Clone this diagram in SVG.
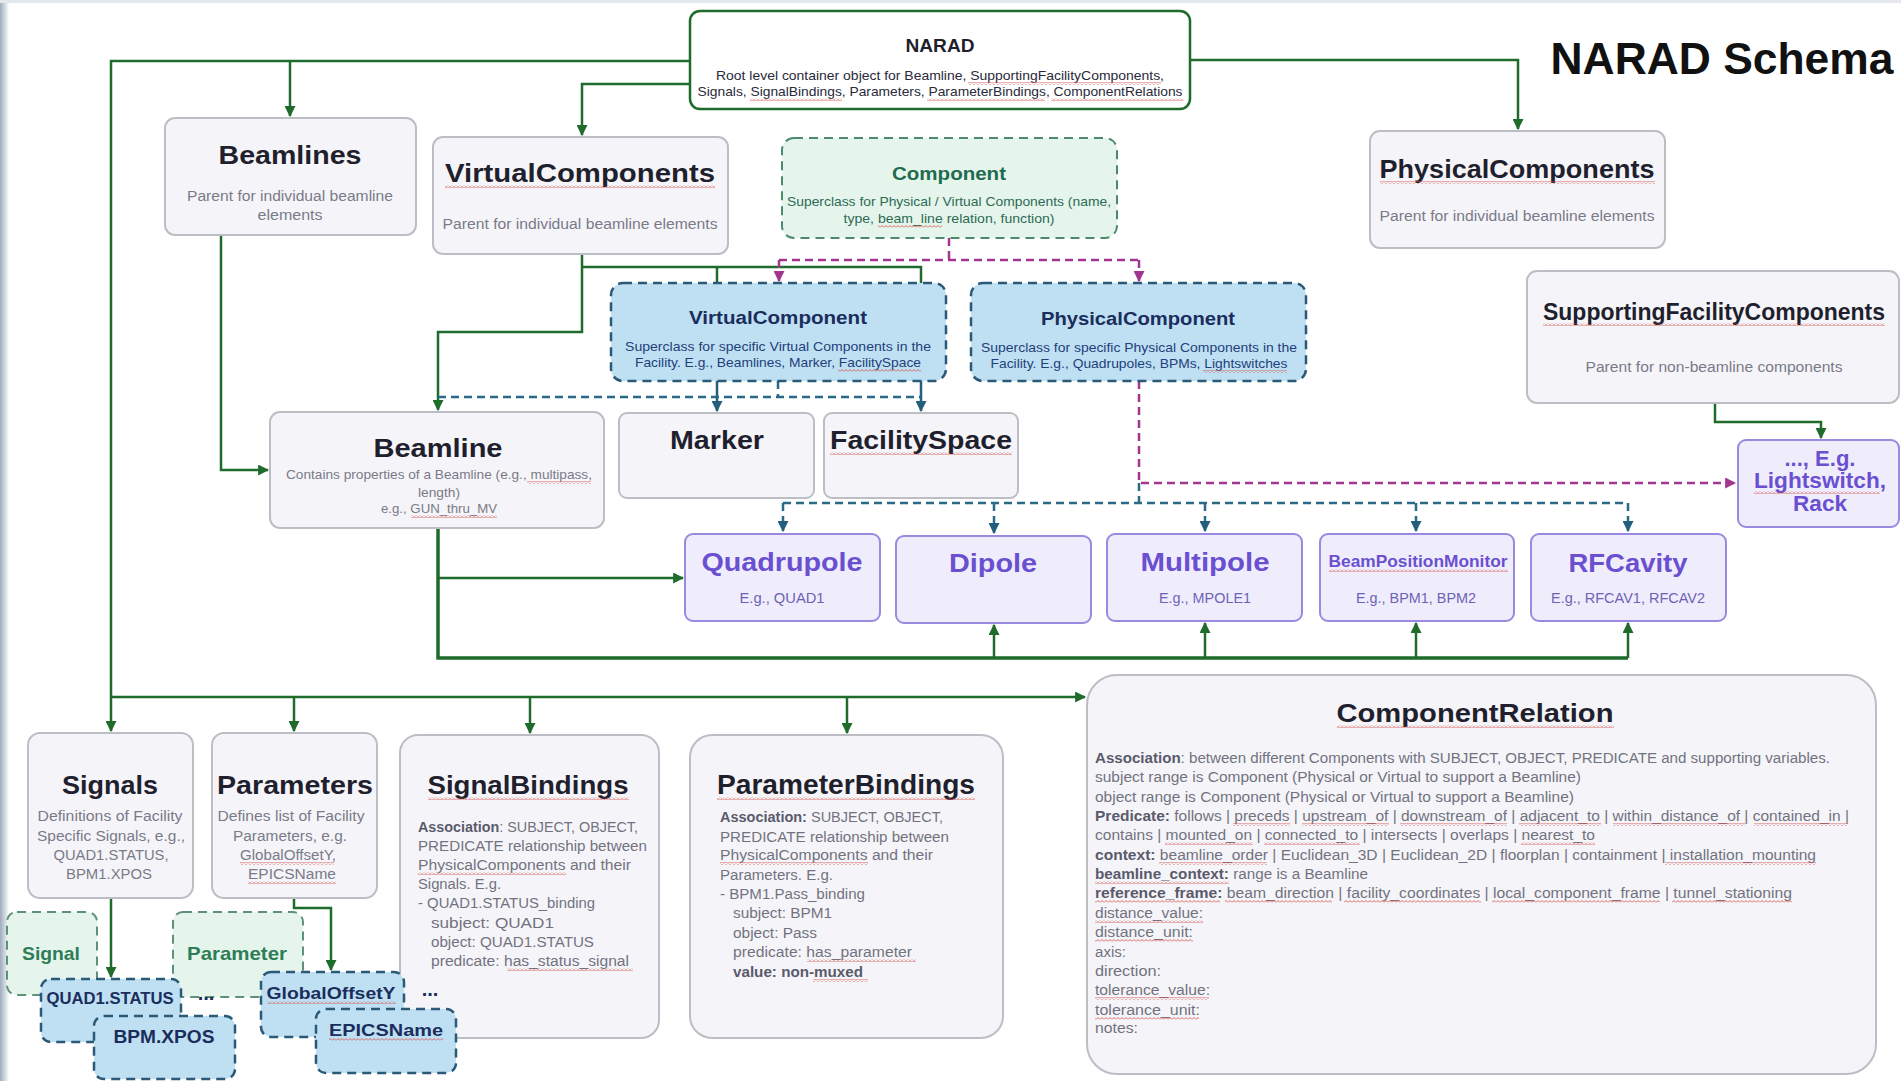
<svg xmlns="http://www.w3.org/2000/svg" width="1901" height="1081" viewBox="0 0 1901 1081">
<defs>
  <linearGradient id="edge" x1="0" x2="1" y1="0" y2="0">
    <stop offset="0" stop-color="#9eacbc"/>
    <stop offset="0.6" stop-color="#d5dce4"/>
    <stop offset="1" stop-color="#ffffff"/>
  </linearGradient>
  <pattern id="sq" width="4" height="3" patternUnits="userSpaceOnUse"><path d="M0,2.5 L2,0.5 L4,2.5" fill="none" stroke="#d8544f" stroke-width="0.9"/></pattern>
  <marker id="ag" viewBox="0 0 10 10" refX="9" refY="5" markerWidth="11" markerHeight="11" markerUnits="userSpaceOnUse" orient="auto"><path d="M0,0 L10,5 L0,10 z" fill="#1e6b2c"/></marker>
  <marker id="at" viewBox="0 0 10 10" refX="9" refY="5" markerWidth="11" markerHeight="11" markerUnits="userSpaceOnUse" orient="auto"><path d="M0,0 L10,5 L0,10 z" fill="#235f7c"/></marker>
  <marker id="am" viewBox="0 0 10 10" refX="9" refY="5" markerWidth="11" markerHeight="11" markerUnits="userSpaceOnUse" orient="auto"><path d="M0,0 L10,5 L0,10 z" fill="#a2358f"/></marker>
</defs>
<style>
  text{font-family:"Liberation Sans",Arial,sans-serif}
  .box{fill:#f5f5f9;stroke:#bdbdc5;stroke-width:2}
  .root{fill:#ffffff;stroke:#1e6b2c;stroke-width:2.5}
  .cmp{fill:#e5f5ec;stroke:#4c8a6c;stroke-width:2;stroke-dasharray:9 6}
  .blu{fill:#bfe0f3;stroke:#2b5a78;stroke-width:2.5;stroke-dasharray:9 6}
  .pur{fill:#efedfc;stroke:#9b88df;stroke-width:2}
  .grn{fill:#e5f5ec;stroke:#5f917a;stroke-width:2;stroke-dasharray:9 6}
  .h{font-weight:bold;font-size:26px;fill:#1f1f2d;text-anchor:middle}
  .hp{font-weight:bold;font-size:26px;fill:#6a50d0;text-anchor:middle}
  .hb{font-weight:bold;font-size:19px;fill:#1a2d5c;text-anchor:middle}
  .hg{font-weight:bold;font-size:19px;fill:#1e6b4f;text-anchor:middle}
  .sub{font-size:14px;fill:#7a7a88;text-anchor:middle}
  .subp{font-size:14px;fill:#6e62b6;text-anchor:middle}
  .subb{font-size:13px;fill:#23407a;text-anchor:middle}
  .subg{font-size:13px;fill:#2d6b55;text-anchor:middle}
  .body{font-size:14px;fill:#72727f}
  .bd{font-weight:bold;fill:#5a5a6c}
  .lg{font-weight:bold;font-size:19px;fill:#2e7d57;text-anchor:middle}
  .lb{font-weight:bold;font-size:17px;fill:#1a2d5c;text-anchor:middle}
  .g{fill:none;stroke:#1e6b2c;stroke-width:2.5}
  .gt{fill:none;stroke:#1e6b2c;stroke-width:3.5}
  .td{fill:none;stroke:#2b6a86;stroke-width:2.5;stroke-dasharray:8 5}
  .ts{fill:none;stroke:#235f7c;stroke-width:2.5}
  .md{fill:none;stroke:#a2358f;stroke-width:2.5;stroke-dasharray:8 5}
  .sq{fill:url(#sq)}
</style>

<rect x="0" y="0" width="1901" height="1081" fill="#ffffff"/>
<rect x="0" y="0" width="9" height="1081" fill="url(#edge)"/>
<rect x="0" y="0" width="1901" height="3" fill="#e4e7eb"/>

<text x="1722" y="74" font-size="44" font-weight="bold" fill="#111" text-anchor="middle" textLength="343" lengthAdjust="spacingAndGlyphs">NARAD Schema</text>

<!-- connectors -->
<g id="connectors">
  <path class="g" d="M690,61 H111 V731" marker-end="url(#ag)"/>
  <path class="g" d="M290,61 V116" marker-end="url(#ag)"/>
  <path class="g" d="M690,84 H582 V135" marker-end="url(#ag)"/>
  <path class="g" d="M1190,60 H1518 V129" marker-end="url(#ag)"/>
  <path class="g" d="M221,235 V470 H268" marker-end="url(#ag)"/>
  <path class="g" d="M582,254 V332 H438 V410" marker-end="url(#ag)"/>
  <path class="g" d="M582,267 H921 V283 M717,267 V283"/>
  <path class="ts" d="M717,381 V411" marker-end="url(#at)"/>
  <path class="ts" d="M921,381 V411" marker-end="url(#at)"/>
  <path class="gt" d="M438,528 V658 H1628"/>
  <path class="g" d="M438,578 H683" marker-end="url(#ag)"/>
  <path class="g" d="M994,658 V625" marker-end="url(#ag)"/>
  <path class="g" d="M1205,658 V623" marker-end="url(#ag)"/>
  <path class="g" d="M1416,658 V623" marker-end="url(#ag)"/>
  <path class="g" d="M1628,658 V623" marker-end="url(#ag)"/>
  <path class="g" d="M111,697 H1085" marker-end="url(#ag)"/>
  <path class="g" d="M294,697 V731" marker-end="url(#ag)"/>
  <path class="g" d="M530,697 V733" marker-end="url(#ag)"/>
  <path class="g" d="M847,697 V733" marker-end="url(#ag)"/>
  <path class="g" d="M1715,403 V422 H1821 V438" marker-end="url(#ag)"/>
  <path class="g" d="M111,898 V977" marker-end="url(#ag)"/>
  <path class="g" d="M294,898 V908 H331 V970" marker-end="url(#ag)"/>
  <path class="md" d="M949,238 V260 M779,260 H1139"/>
  <path class="md" d="M779,260 V281" marker-end="url(#am)"/>
  <path class="md" d="M1139,260 V281" marker-end="url(#am)"/>
  <path class="md" d="M1139,381 V483 H1735" marker-end="url(#am)"/>
  <path class="td" d="M778,381 V397 M438,397 H921"/>
  <path class="td" d="M1139,483 V503 M783,503 H1628"/>
  <path class="td" d="M783,503 V531" marker-end="url(#at)"/>
  <path class="td" d="M994,503 V533" marker-end="url(#at)"/>
  <path class="td" d="M1205,503 V531" marker-end="url(#at)"/>
  <path class="td" d="M1416,503 V531" marker-end="url(#at)"/>
  <path class="td" d="M1628,503 V531" marker-end="url(#at)"/>
</g>

<g id="narad">
  <rect class="root" x="690" y="11" width="500" height="98" rx="10"/>
  <text x="940" y="52" font-size="19" font-weight="bold" fill="#1f1f2d" text-anchor="middle" textLength="69" lengthAdjust="spacingAndGlyphs">NARAD</text>
  <text x="940" y="80" font-size="13" fill="#2a2a3a" text-anchor="middle" textLength="448" lengthAdjust="spacingAndGlyphs">Root level container object for Beamline, SupportingFacilityComponents,</text>
  <text x="940" y="96" font-size="13" fill="#2a2a3a" text-anchor="middle" textLength="485" lengthAdjust="spacingAndGlyphs">Signals, SignalBindings, Parameters, ParameterBindings, ComponentRelations</text>
</g>

<g id="beamlines">
  <rect class="box" x="165" y="118" width="251" height="117" rx="10"/>
  <text class="h" x="290" y="164" textLength="143" lengthAdjust="spacingAndGlyphs">Beamlines</text>
  <text class="sub" x="290" y="201" textLength="206" lengthAdjust="spacingAndGlyphs">Parent for individual beamline</text>
  <text class="sub" x="290" y="220" textLength="65" lengthAdjust="spacingAndGlyphs">elements</text>
</g>

<g id="virtualcomponents">
  <rect class="box" x="433" y="137" width="295" height="117" rx="10"/>
  <text class="h" x="580" y="182" textLength="270" lengthAdjust="spacingAndGlyphs">VirtualComponents</text>
  <text class="sub" x="580" y="229" textLength="275" lengthAdjust="spacingAndGlyphs">Parent for individual beamline elements</text>
</g>

<g id="component">
  <rect class="cmp" x="782" y="138" width="335" height="100" rx="12"/>
  <text class="hg" x="949" y="180" textLength="114" lengthAdjust="spacingAndGlyphs">Component</text>
  <text class="subg" x="949" y="206" textLength="324" lengthAdjust="spacingAndGlyphs">Superclass for Physical / Virtual Components (name,</text>
  <text class="subg" x="949" y="223" textLength="211" lengthAdjust="spacingAndGlyphs">type, beam_line relation, function)</text>
</g>

<g id="physicalcomponents">
  <rect class="box" x="1370" y="131" width="295" height="117" rx="10"/>
  <text class="h" x="1517" y="178" textLength="275" lengthAdjust="spacingAndGlyphs">PhysicalComponents</text>
  <text class="sub" x="1517" y="221" textLength="275" lengthAdjust="spacingAndGlyphs">Parent for individual beamline elements</text>
</g>

<g id="supportingfacilitycomponents">
  <rect class="box" x="1527" y="271" width="372" height="132" rx="10"/>
  <text class="h" x="1714" y="320" textLength="342" lengthAdjust="spacingAndGlyphs" style="font-size:23px">SupportingFacilityComponents</text>
  <text class="sub" x="1714" y="372" textLength="257" lengthAdjust="spacingAndGlyphs">Parent for non-beamline components</text>
</g>

<g id="supporting-examples">
  <rect class="pur" x="1738" y="440" width="161" height="87" rx="8"/>
  <text class="hp" x="1820" y="466" style="font-size:22px" textLength="71" lengthAdjust="spacingAndGlyphs">..., E.g.</text>
  <text class="hp" x="1820" y="488" style="font-size:22px" textLength="132" lengthAdjust="spacingAndGlyphs">Lightswitch,</text>
  <text class="hp" x="1820" y="511" style="font-size:22px" textLength="54" lengthAdjust="spacingAndGlyphs">Rack</text>
</g>

<g id="virtualcomponent">
  <rect class="blu" x="611" y="283" width="335" height="98" rx="12"/>
  <text class="hb" x="778" y="324" textLength="178" lengthAdjust="spacingAndGlyphs">VirtualComponent</text>
  <text class="subb" x="778" y="351" textLength="306" lengthAdjust="spacingAndGlyphs">Superclass for specific Virtual Components in the</text>
  <text class="subb" x="778" y="367" textLength="286" lengthAdjust="spacingAndGlyphs">Facility. E.g., Beamlines, Marker, FacilitySpace</text>
</g>

<g id="physicalcomponent">
  <rect class="blu" x="971" y="283" width="335" height="98" rx="12"/>
  <text class="hb" x="1138" y="325" textLength="194" lengthAdjust="spacingAndGlyphs">PhysicalComponent</text>
  <text class="subb" x="1139" y="352" textLength="316" lengthAdjust="spacingAndGlyphs">Superclass for specific Physical Components in the</text>
  <text class="subb" x="1139" y="368" textLength="297" lengthAdjust="spacingAndGlyphs">Facility. E.g., Quadrupoles, BPMs, Lightswitches</text>
</g>

<g id="beamline">
  <rect class="box" x="270" y="412" width="334" height="116" rx="10"/>
  <text class="h" x="438" y="457" textLength="129" lengthAdjust="spacingAndGlyphs">Beamline</text>
  <text class="sub" x="439" y="479" style="font-size:13px" textLength="306" lengthAdjust="spacingAndGlyphs">Contains properties of a Beamline (e.g., multipass,</text>
  <text class="sub" x="439" y="497" style="font-size:13px" textLength="42" lengthAdjust="spacingAndGlyphs">length)</text>
  <text class="sub" x="439" y="513" style="font-size:13px" textLength="116" lengthAdjust="spacingAndGlyphs">e.g., GUN_thru_MV</text>
</g>

<g id="marker">
  <rect class="box" x="619" y="413" width="195" height="85" rx="8"/>
  <text class="h" x="717" y="449" textLength="94" lengthAdjust="spacingAndGlyphs">Marker</text>
</g>

<g id="facilityspace">
  <rect class="box" x="824" y="413" width="194" height="85" rx="8"/>
  <text class="h" x="921" y="449" textLength="182" lengthAdjust="spacingAndGlyphs">FacilitySpace</text>
</g>

<g id="quadrupole">
  <rect class="pur" x="685" y="534" width="195" height="87" rx="8"/>
  <text class="hp" x="782" y="571" textLength="161" lengthAdjust="spacingAndGlyphs">Quadrupole</text>
  <text class="subp" x="782" y="603" textLength="85" lengthAdjust="spacingAndGlyphs">E.g., QUAD1</text>
</g>

<g id="dipole">
  <rect class="pur" x="896" y="536" width="195" height="87" rx="8"/>
  <text class="hp" x="993" y="572" textLength="88" lengthAdjust="spacingAndGlyphs">Dipole</text>
</g>

<g id="multipole">
  <rect class="pur" x="1107" y="534" width="195" height="87" rx="8"/>
  <text class="hp" x="1205" y="571" textLength="129" lengthAdjust="spacingAndGlyphs">Multipole</text>
  <text class="subp" x="1205" y="603" textLength="92" lengthAdjust="spacingAndGlyphs">E.g., MPOLE1</text>
</g>

<g id="beampositionmonitor">
  <rect class="pur" x="1320" y="534" width="194" height="87" rx="8"/>
  <text class="hp" x="1418" y="567" style="font-size:17px" textLength="179" lengthAdjust="spacingAndGlyphs">BeamPositionMonitor</text>
  <text class="subp" x="1416" y="603" textLength="120" lengthAdjust="spacingAndGlyphs">E.g., BPM1, BPM2</text>
</g>

<g id="rfcavity">
  <rect class="pur" x="1531" y="534" width="195" height="87" rx="8"/>
  <text class="hp" x="1628" y="572" textLength="119" lengthAdjust="spacingAndGlyphs">RFCavity</text>
  <text class="subp" x="1628" y="603" textLength="154" lengthAdjust="spacingAndGlyphs">E.g., RFCAV1, RFCAV2</text>
</g>

<g id="signals">
  <rect class="box" x="28" y="733" width="165" height="165" rx="12"/>
  <text class="h" x="110" y="794" textLength="96" lengthAdjust="spacingAndGlyphs">Signals</text>
  <text class="sub" x="110" y="821" textLength="145" lengthAdjust="spacingAndGlyphs">Definitions of Facility</text>
  <text class="sub" x="111" y="841" textLength="148" lengthAdjust="spacingAndGlyphs">Specific Signals, e.g.,</text>
  <text class="sub" x="111" y="860" textLength="115" lengthAdjust="spacingAndGlyphs">QUAD1.STATUS,</text>
  <text class="sub" x="109" y="879" textLength="86" lengthAdjust="spacingAndGlyphs">BPM1.XPOS</text>
</g>

<g id="parameters">
  <rect class="box" x="212" y="733" width="165" height="165" rx="12"/>
  <text class="h" x="295" y="794" textLength="156" lengthAdjust="spacingAndGlyphs">Parameters</text>
  <text class="sub" x="291" y="821" textLength="147" lengthAdjust="spacingAndGlyphs">Defines list of Facility</text>
  <text class="sub" x="290" y="841" textLength="114" lengthAdjust="spacingAndGlyphs">Parameters, e.g.</text>
  <text class="sub" x="288" y="860" textLength="96" lengthAdjust="spacingAndGlyphs">GlobalOffsetY,</text>
  <text class="sub" x="292" y="879" textLength="88" lengthAdjust="spacingAndGlyphs">EPICSName</text>
</g>

<g id="signalbindings">
  <rect class="box" x="400" y="735" width="259" height="303" rx="18"/>
  <text class="h" x="528" y="794" textLength="201" lengthAdjust="spacingAndGlyphs">SignalBindings</text>
  <text class="body" x="418" y="832" textLength="220" lengthAdjust="spacingAndGlyphs"><tspan class="bd">Association</tspan>: SUBJECT, OBJECT,</text>
  <text class="body" x="418" y="851" textLength="229" lengthAdjust="spacingAndGlyphs">PREDICATE relationship between</text>
  <text class="body" x="418" y="870" textLength="213" lengthAdjust="spacingAndGlyphs">PhysicalComponents and their</text>
  <text class="body" x="418" y="889" textLength="83" lengthAdjust="spacingAndGlyphs">Signals. E.g.</text>
  <text class="body" x="418" y="908" textLength="177" lengthAdjust="spacingAndGlyphs">- QUAD1.STATUS_binding</text>
  <text class="body" x="431" y="928" textLength="123" lengthAdjust="spacingAndGlyphs">subject: QUAD1</text>
  <text class="body" x="431" y="947" textLength="163" lengthAdjust="spacingAndGlyphs">object: QUAD1.STATUS</text>
  <text class="body" x="431" y="966" textLength="198" lengthAdjust="spacingAndGlyphs">predicate: has_status_signal</text>
</g>

<g id="parameterbindings">
  <rect class="box" x="690" y="735" width="313" height="303" rx="22"/>
  <text class="h" x="846" y="794" style="font-size:27px" textLength="258" lengthAdjust="spacingAndGlyphs">ParameterBindings</text>
  <text class="body" x="720" y="822" textLength="223" lengthAdjust="spacingAndGlyphs"><tspan class="bd">Association:</tspan> SUBJECT, OBJECT,</text>
  <text class="body" x="720" y="842" textLength="229" lengthAdjust="spacingAndGlyphs">PREDICATE relationship between</text>
  <text class="body" x="720" y="860" textLength="213" lengthAdjust="spacingAndGlyphs">PhysicalComponents and their</text>
  <text class="body" x="720" y="880" textLength="113" lengthAdjust="spacingAndGlyphs">Parameters. E.g.</text>
  <text class="body" x="720" y="899" textLength="145" lengthAdjust="spacingAndGlyphs">- BPM1.Pass_binding</text>
  <text class="body" x="733" y="918" textLength="99" lengthAdjust="spacingAndGlyphs">subject: BPM1</text>
  <text class="body" x="733" y="938" textLength="84" lengthAdjust="spacingAndGlyphs">object: Pass</text>
  <text class="body" x="733" y="957" textLength="179" lengthAdjust="spacingAndGlyphs">predicate: has_parameter</text>
  <text class="body bd" x="733" y="977" textLength="130" lengthAdjust="spacingAndGlyphs">value: non-muxed</text>
</g>

<g id="componentrelation">
  <rect class="box" x="1087" y="675" width="789" height="399" rx="30"/>
  <text class="h" x="1475" y="722" textLength="277" lengthAdjust="spacingAndGlyphs">ComponentRelation</text>
  <text class="body" x="1095" y="763" textLength="735" lengthAdjust="spacingAndGlyphs"><tspan class="bd">Association</tspan>: between different Components with SUBJECT, OBJECT, PREDICATE and supporting variables.</text>
  <text class="body" x="1095" y="782" textLength="486" lengthAdjust="spacingAndGlyphs">subject range is Component (Physical or Virtual to support a Beamline)</text>
  <text class="body" x="1095" y="802" textLength="479" lengthAdjust="spacingAndGlyphs">object range is Component (Physical or Virtual to support a Beamline)</text>
  <text class="body" x="1095" y="821" textLength="754" lengthAdjust="spacingAndGlyphs"><tspan class="bd">Predicate:</tspan> follows | preceds | upstream_of | downstream_of | adjacent_to | within_distance_of | contained_in |</text>
  <text class="body" x="1095" y="840" textLength="500" lengthAdjust="spacingAndGlyphs">contains | mounted_on | connected_to | intersects | overlaps | nearest_to</text>
  <text class="body" x="1095" y="860" textLength="721" lengthAdjust="spacingAndGlyphs"><tspan class="bd">context:</tspan> beamline_order | Euclidean_3D | Euclidean_2D | floorplan | containment | installation_mounting</text>
  <text class="body" x="1095" y="879" textLength="273" lengthAdjust="spacingAndGlyphs"><tspan class="bd">beamline_context:</tspan> range is a Beamline</text>
  <text class="body" x="1095" y="898" textLength="697" lengthAdjust="spacingAndGlyphs"><tspan class="bd">reference_frame:</tspan> beam_direction | facility_coordinates | local_component_frame | tunnel_stationing</text>
  <text class="body" x="1095" y="918" textLength="108" lengthAdjust="spacingAndGlyphs">distance_value:</text>
  <text class="body" x="1095" y="937" textLength="98" lengthAdjust="spacingAndGlyphs">distance_unit:</text>
  <text class="body" x="1095" y="957" textLength="31" lengthAdjust="spacingAndGlyphs">axis:</text>
  <text class="body" x="1095" y="976" textLength="66" lengthAdjust="spacingAndGlyphs">direction:</text>
  <text class="body" x="1095" y="995" textLength="115" lengthAdjust="spacingAndGlyphs">tolerance_value:</text>
  <text class="body" x="1095" y="1015" textLength="105" lengthAdjust="spacingAndGlyphs">tolerance_unit:</text>
  <text class="body" x="1095" y="1033" textLength="43" lengthAdjust="spacingAndGlyphs">notes:</text>
</g>

<g id="signal">
  <rect class="grn" x="7" y="912" width="90" height="83" rx="10"/>
  <text class="lg" x="51" y="960" textLength="58" lengthAdjust="spacingAndGlyphs">Signal</text>
</g>

<g id="parameter">
  <rect class="grn" x="173" y="912" width="130" height="85" rx="10"/>
  <text class="lg" x="237" y="960" textLength="100" lengthAdjust="spacingAndGlyphs">Parameter</text>
</g>

<g id="quad1-status">
  <rect class="blu" x="41" y="979" width="140" height="63" rx="10"/>
  <text class="lb" x="110" y="1004" style="font-size:16px" textLength="127" lengthAdjust="spacingAndGlyphs">QUAD1.STATUS</text>
</g>
<text x="206" y="1000" font-size="20" font-weight="bold" fill="#1a2d5c" text-anchor="middle">...</text>

<g id="bpm-xpos">
  <rect class="blu" x="94" y="1016" width="141" height="63" rx="10"/>
  <text class="lb" x="164" y="1043" style="font-size:18px" textLength="101" lengthAdjust="spacingAndGlyphs">BPM.XPOS</text>
</g>

<g id="globaloffsety">
  <rect class="blu" x="261" y="972" width="143" height="65" rx="10"/>
  <text class="lb" x="331" y="999" textLength="129" lengthAdjust="spacingAndGlyphs">GlobalOffsetY</text>
</g>
<text x="430" y="996" font-size="20" font-weight="bold" fill="#1a2d5c" text-anchor="middle">...</text>

<g id="epicsname">
  <rect class="blu" x="316" y="1009" width="140" height="64" rx="10"/>
  <text class="lb" x="386" y="1036" textLength="114" lengthAdjust="spacingAndGlyphs">EPICSName</text>
</g>

<g id="spellcheck">
  <rect class="sq" x="445" y="185" width="270" height="3"/>
  <rect class="sq" x="1380" y="181" width="275" height="3"/>
  <rect class="sq" x="1543" y="323" width="342" height="3"/>
  <rect class="sq" x="830" y="452" width="182" height="3"/>
  <rect class="sq" x="1329" y="569" width="179" height="3"/>
  <rect class="sq" x="428" y="797" width="201" height="3"/>
  <rect class="sq" x="717" y="797" width="258" height="3"/>
  <rect class="sq" x="1337" y="725" width="277" height="3"/>
  <rect class="sq" x="1754" y="491" width="126" height="3"/>
  <rect class="sq" x="968" y="82" width="193" height="3"/>
  <rect class="sq" x="750" y="98" width="92" height="3"/>
  <rect class="sq" x="927" y="98" width="118" height="3"/>
  <rect class="sq" x="1051" y="98" width="132" height="3"/>
  <rect class="sq" x="878" y="225" width="64" height="3"/>
  <rect class="sq" x="838" y="369" width="83" height="3"/>
  <rect class="sq" x="1203" y="370" width="84" height="3"/>
  <rect class="sq" x="527" y="481" width="64" height="3"/>
  <rect class="sq" x="411" y="515" width="86" height="3"/>
  <rect class="sq" x="240" y="862" width="94" height="3"/>
  <rect class="sq" x="248" y="881" width="88" height="3"/>
  <rect class="sq" x="418" y="872" width="148" height="3"/>
  <rect class="sq" x="507" y="968" width="126" height="3"/>
  <rect class="sq" x="720" y="862" width="148" height="3"/>
  <rect class="sq" x="807" y="959" width="109" height="3"/>
  <rect class="sq" x="813" y="979" width="55" height="3"/>
  <rect class="sq" x="267" y="1001" width="129" height="3"/>
  <rect class="sq" x="329" y="1038" width="114" height="3"/>
  <rect class="sq" x="1233" y="823" width="57" height="3"/>
  <rect class="sq" x="1302" y="823" width="87" height="3"/>
  <rect class="sq" x="1400" y="823" width="107" height="3"/>
  <rect class="sq" x="1519" y="823" width="82" height="3"/>
  <rect class="sq" x="1613" y="823" width="132" height="3"/>
  <rect class="sq" x="1754" y="823" width="93" height="3"/>
  <rect class="sq" x="1165" y="842" width="88" height="3"/>
  <rect class="sq" x="1264" y="842" width="96" height="3"/>
  <rect class="sq" x="1521" y="842" width="74" height="3"/>
  <rect class="sq" x="1159" y="862" width="108" height="3"/>
  <rect class="sq" x="1665" y="862" width="151" height="3"/>
  <rect class="sq" x="1095" y="881" width="134" height="3"/>
  <rect class="sq" x="1095" y="900" width="125" height="3"/>
  <rect class="sq" x="1225" y="900" width="107" height="3"/>
  <rect class="sq" x="1344" y="900" width="137" height="3"/>
  <rect class="sq" x="1492" y="900" width="168" height="3"/>
  <rect class="sq" x="1672" y="900" width="120" height="3"/>
  <rect class="sq" x="1095" y="920" width="108" height="3"/>
  <rect class="sq" x="1095" y="939" width="98" height="3"/>
  <rect class="sq" x="1095" y="997" width="114" height="3"/>
  <rect class="sq" x="1095" y="1017" width="104" height="3"/>
</g>
</svg>
